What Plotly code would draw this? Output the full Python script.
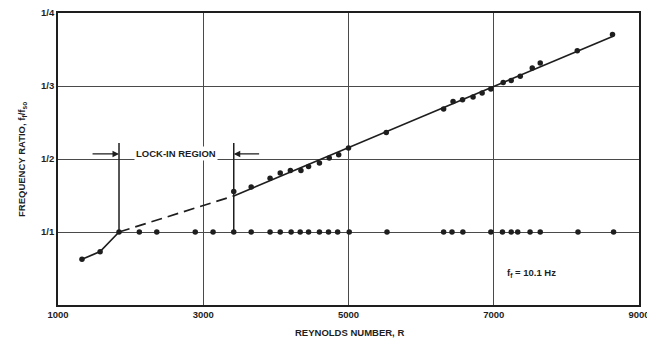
import numpy as np
import plotly.graph_objects as go

# Reynolds number vs. frequency-ratio index n (the ratio f_f/f_so is labelled 1/n)
reynolds_shed = [1330, 1580, 3420, 3660, 3920, 4060, 4200, 4345, 4450, 4600, 4735,
                 4865, 5000, 5520, 6310, 6440, 6570, 6715, 6840, 6960, 7130, 7240,
                 7365, 7530, 7640, 8150, 8635]
n_shed = [0.627, 0.731, 1.554, 1.615, 1.738, 1.807, 1.842, 1.842, 1.897, 1.944, 2.012,
          2.058, 2.150, 2.364, 2.684, 2.789, 2.812, 2.849, 2.904, 2.959, 3.049, 3.077,
          3.132, 3.247, 3.315, 3.484, 3.704]

# points locked onto the forcing frequency (ratio 1/1)
reynolds_locked = [1840, 2120, 2360, 2890, 3135, 3420, 3660, 3920, 4060, 4210, 4335,
                   4450, 4600, 4725, 4850, 5010, 5530, 6310, 6425, 6575, 6960, 7120,
                   7240, 7330, 7500, 7640, 8160, 8650]
n_locked = [1.0] * len(reynolds_locked)

lock_in_bounds = [1840, 3420]
x_tick_vals = [1000, 3000, 5000, 7000, 9000]
y_tick_vals = [1, 2, 3, 4]
y_tick_text = ["1/1", "1/2", "1/3", "1/4"]

INK = "#1e1e1e"
GRID = "#4a4a4a"
FONT = "Liberation Sans"


def text_font(size=9.5):
    return dict(family=FONT, size=size, color=INK, weight="bold")


R = np.array(reynolds_shed)
N = np.array(n_shed)

# linear fit above the lock-in region
above = R >= lock_in_bounds[1]
slope, intercept = np.polyfit(R[above], N[above], 1)
fit_x = np.array([lock_in_bounds[1], R.max()])
fit_y = slope * fit_x + intercept

# below lock-in: join the measured points up to the lock-in corner
below = R < lock_in_bounds[0]
low_x = list(R[below]) + [lock_in_bounds[0]]
low_y = list(N[below]) + [1.0]

fig = go.Figure()

fig.add_trace(go.Scatter(x=low_x, y=low_y, mode="lines",
                         line=dict(color=INK, width=1.7), hoverinfo="skip"))
fig.add_trace(go.Scatter(x=[lock_in_bounds[0], fit_x[0]], y=[1.0, fit_y[0]], mode="lines",
                         line=dict(color=INK, width=1.7, dash="11px,6px"), hoverinfo="skip"))
fig.add_trace(go.Scatter(x=fit_x, y=fit_y, mode="lines",
                         line=dict(color=INK, width=1.7), hoverinfo="skip"))

fig.add_trace(go.Scatter(x=reynolds_shed, y=n_shed, mode="markers",
                         marker=dict(color=INK, size=5.5)))
fig.add_trace(go.Scatter(x=reynolds_locked, y=n_locked, mode="markers",
                         marker=dict(color=INK, size=5.5)))

# lock-in bracket
bracket_top = 2.22
arrow_y = 2.07
for xb in lock_in_bounds:
    fig.add_shape(type="line", x0=xb, x1=xb, y0=1.0, y1=bracket_top,
                  line=dict(color=INK, width=1.5), layer="above")

fig.add_annotation(x=lock_in_bounds[0], y=arrow_y, ax=1455, ay=arrow_y,
                   xref="x", yref="y", axref="x", ayref="y", text="",
                   showarrow=True, arrowhead=2, arrowsize=1, arrowwidth=1.3,
                   arrowcolor=INK)
fig.add_annotation(x=lock_in_bounds[1], y=arrow_y, ax=3790, ay=arrow_y,
                   xref="x", yref="y", axref="x", ayref="y", text="",
                   showarrow=True, arrowhead=2, arrowsize=1, arrowwidth=1.3,
                   arrowcolor=INK)
fig.add_annotation(x=sum(lock_in_bounds) / 2, y=arrow_y, text="LOCK-IN REGION",
                   showarrow=False, font=text_font(9.5), bgcolor="white")

fig.add_annotation(x=7150, y=0.44, xanchor="left", text="f<sub>f</sub> = 10.1 Hz",
                   showarrow=False, font=text_font(9.5))

# axis titles
fig.add_annotation(xref="paper", yref="paper", x=0.502, y=-0.095, yanchor="middle",
                   text="REYNOLDS NUMBER, R", showarrow=False, font=text_font(9.5))
fig.add_annotation(xref="paper", yref="paper", x=-0.062, y=0.5, xanchor="center",
                   text="FREQUENCY RATIO, f<sub>f</sub>/f<sub>so</sub>", textangle=-90,
                   showarrow=False, font=text_font(9.5))

fig.update_layout(
    width=647, height=342,
    margin=dict(l=58, r=8, t=13, b=37, autoexpand=False),
    paper_bgcolor="white", plot_bgcolor="white",
    showlegend=False,
    font=text_font(9.5),
)
fig.update_xaxes(range=[1000, 9000], tickvals=x_tick_vals, showgrid=True,
                 gridcolor=GRID, gridwidth=1.3, showline=True, linecolor=INK,
                 linewidth=1.6, mirror=True, ticks="", zeroline=False,
                 automargin=False, ticklabeloverflow="allow", tickfont=text_font(9.5))
fig.update_yaxes(range=[0, 4], tickvals=y_tick_vals, ticktext=y_tick_text,
                 showgrid=True, gridcolor=GRID, gridwidth=1.3, showline=True,
                 linecolor=INK, linewidth=1.6, mirror=True, ticks="", zeroline=False,
                 automargin=False, tickfont=text_font(9.5))

fig.write_html("out.html")
